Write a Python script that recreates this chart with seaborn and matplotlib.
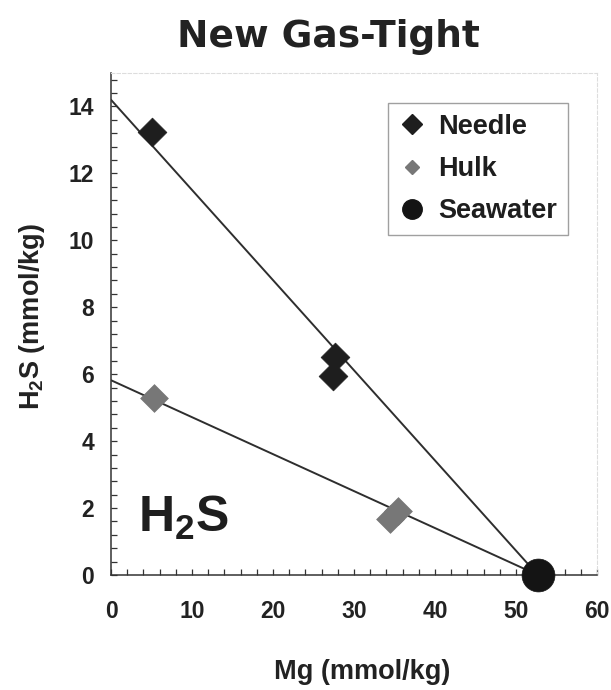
import numpy as np
import pandas as pd
import matplotlib
matplotlib.use("Agg")
import matplotlib.pyplot as plt
from matplotlib.lines import Line2D
from matplotlib.ticker import MultipleLocator
import seaborn as sns

# Vent fluid samples: Mg vs H2S (mmol/kg)
needle_mg = [5.0, 27.7, 27.4]
needle_h2s = [13.25, 6.5, 5.95]
hulk_mg = [5.3, 35.4, 34.5]
hulk_h2s = [5.3, 1.92, 1.66]
seawater_mg = [52.7]
seawater_h2s = [0.0]

# Zero-Mg end-member H2S of each mixing line
needle_endmember = 14.2
hulk_endmember = 5.82

series_labels = ["Needle", "Hulk", "Seawater"]
x_ticks = [0, 10, 20, 30, 40, 50, 60]
y_ticks = [0, 2, 4, 6, 8, 10, 12, 14]

sns.set_theme(style="white")
plt.rcParams["font.family"] = ["Liberation Sans", "DejaVu Sans"]
plt.rcParams["mathtext.fontset"] = "custom"
plt.rcParams["mathtext.rm"] = "Liberation Sans"
plt.rcParams["mathtext.bf"] = "Liberation Sans:bold"

fig = plt.figure(figsize=(6.11, 6.90), dpi=100)
ax = fig.add_axes([111 / 611, 1 - 575 / 690, 486 / 611, 502 / 690])

line_color = "#2e2e2e"
needle_color = "#1e1e1e"
hulk_color = "#777777"
sw_color = "#141414"

# Mixing lines from each end-member to seawater
for end in (needle_endmember, hulk_endmember):
    sns.lineplot(x=[0.0, seawater_mg[0]], y=[end, seawater_h2s[0]], ax=ax,
                 color=line_color, linewidth=1.4, zorder=2)

sns.scatterplot(x=needle_mg, y=needle_h2s, ax=ax, marker="D", s=215,
                color=needle_color, edgecolor=needle_color, linewidth=0.5, zorder=3)
sns.scatterplot(x=hulk_mg, y=hulk_h2s, ax=ax, marker="D", s=200,
                color=hulk_color, edgecolor=hulk_color, linewidth=0.5, zorder=3)
sns.scatterplot(x=seawater_mg, y=seawater_h2s, ax=ax, marker="o", s=560,
                color=sw_color, edgecolor=sw_color, linewidth=0.5, zorder=4,
                clip_on=False)

ax.set_xlim(0, 60)
ax.set_ylim(0, 15)
ax.set_xticks(x_ticks)
ax.set_yticks(y_ticks)
ax.xaxis.set_minor_locator(MultipleLocator(2))
ax.yaxis.set_minor_locator(MultipleLocator(0.4))
ax.tick_params(which="both", direction="in", length=4, width=0.9,
               color="#333333", bottom=True, left=True, top=False, right=False)
ax.tick_params(axis="x", which="major", pad=18, labelsize=16.5, labelcolor="#222222")
ax.tick_params(axis="y", which="major", pad=12, labelsize=16.5, labelcolor="#222222")
for lab in ax.get_xticklabels() + ax.get_yticklabels():
    lab.set_fontweight("bold")

for side in ("left", "bottom"):
    ax.spines[side].set_color("#333333")
    ax.spines[side].set_linewidth(1.1)
for side in ("top", "right"):
    ax.spines[side].set_color("#dddddd")
    ax.spines[side].set_linewidth(0.8)
    ax.spines[side].set_linestyle((0, (3, 2)))

ax.set_xlabel("Mg (mmol/kg)", fontsize=19.5, fontweight="bold", color="#222222")
ax.set_ylabel(r"H$_\mathbf{2}$S (mmol/kg)", fontsize=19.5, fontweight="bold",
              color="#222222")
ax.xaxis.set_label_coords(0.516, -0.207)
ax.xaxis.label.set_va("baseline")
ax.yaxis.set_label_coords(-0.163, 0.515)
ax.yaxis.label.set_va("center")

ax.text(3.3, 1.28, r"H$_\mathbf{2}$S", fontsize=36, fontweight="bold",
        color="#1e1e1e", ha="left", va="baseline")

fig.text(328 / 611, 1 - 46.7 / 690, "New Gas-Tight", fontsize=27,
         fontweight="bold", family="DejaVu Sans", color="#222222",
         ha="center", va="baseline")

handles = [
    Line2D([], [], linestyle="none", marker="D", markersize=9.7,
           color=needle_color, markeredgecolor=needle_color),
    Line2D([], [], linestyle="none", marker="D", markersize=7.6,
           color=hulk_color, markeredgecolor=hulk_color),
    Line2D([], [], linestyle="none", marker="o", markersize=14,
           color=sw_color, markeredgecolor=sw_color),
]
leg = ax.legend(handles, series_labels, loc="upper left",
                bbox_to_anchor=(0.570, 0.940), borderaxespad=0,
                prop={"family": "Liberation Sans", "weight": "bold", "size": 19.5},
                frameon=True, fancybox=False, edgecolor="#888888",
                handlelength=1.0, handletextpad=0.45, labelspacing=0.6,
                borderpad=0.4)
leg.get_frame().set_linewidth(1.0)
for t in leg.get_texts():
    t.set_color("#1e1e1e")

fig.savefig("out.png", dpi=100, facecolor="white")
